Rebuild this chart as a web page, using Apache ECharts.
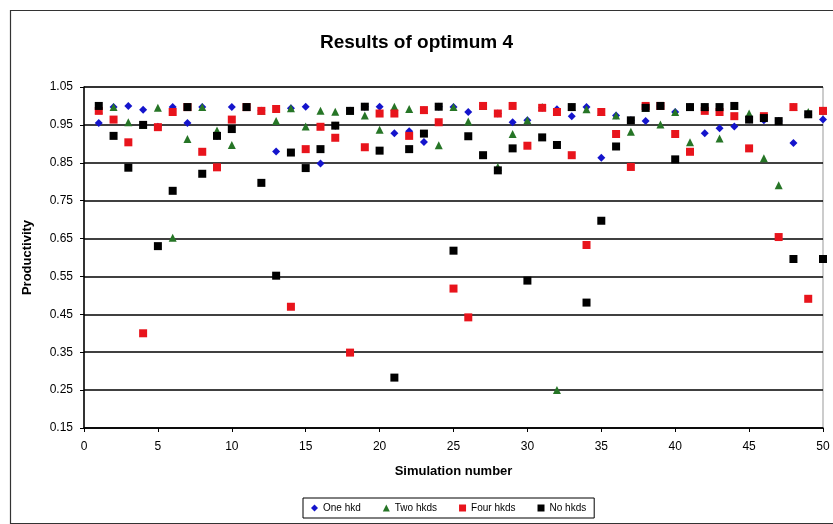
<!DOCTYPE html>
<html>
<head>
<meta charset="utf-8">
<script src="https://cdn.jsdelivr.net/npm/echarts@6/dist/echarts.min.js"></script>
<style>
html,body{margin:0;padding:0;background:#fff;}
#c{width:833px;height:524px;}
</style>
</head>
<body>
<div id="c"></div>
<script>
// Simulation numbers 1..50
const simulations = [1,2,3,4,5,6,7,8,9,10,11,12,13,14,15,16,17,18,19,20,21,22,23,24,25,26,27,28,29,30,31,32,33,34,35,36,37,38,39,40,41,42,43,44,45,46,47,48,49,50];
const oneHkd = [0.955,0.997,1.0,0.99,0.945,0.997,0.955,0.997,0.921,0.997,0.997,0.987,0.88,0.994,0.998,0.848,0.948,0.987,0.998,0.998,0.928,0.933,0.905,0.998,0.997,0.984,1.0,0.98,0.957,0.962,0.995,0.991,0.973,0.997,0.863,0.975,0.962,0.96,1.0,0.984,0.997,0.928,0.941,0.946,0.964,0.962,0.96,0.902,0.978,0.964];
const twoHkds = [0.99,0.997,0.957,0.95,0.995,0.652,0.913,0.997,0.935,0.897,0.997,0.987,0.96,0.994,0.946,0.987,0.985,0.987,0.975,0.937,0.998,0.992,0.989,0.896,0.997,0.959,1.0,0.839,0.926,0.962,0.997,0.25,0.997,0.991,0.984,0.975,0.932,0.995,0.951,0.984,0.904,0.997,0.914,1.0,0.98,0.862,0.791,0.997,0.984,0.987];
const fourHkds = [0.987,0.964,0.904,0.40,0.944,0.984,0.997,0.879,0.838,0.964,0.997,0.987,0.992,0.47,0.886,0.945,0.916,0.349,0.891,0.98,0.98,0.921,0.989,0.957,0.518,0.442,1.0,0.98,1.0,0.895,0.995,0.984,0.87,0.633,0.984,0.926,0.839,1.0,1.0,0.926,0.879,0.987,0.984,0.973,0.888,0.973,0.654,0.997,0.491,0.987];
const noHkds = [1.0,0.921,0.837,0.95,0.63,0.776,0.997,0.821,0.921,0.939,0.997,0.797,0.552,0.877,0.836,0.886,0.948,0.987,0.998,0.882,0.283,0.886,0.927,0.998,0.618,0.92,0.87,0.83,0.888,0.539,0.917,0.897,0.997,0.481,0.697,0.893,0.962,0.995,1.0,0.859,0.997,0.997,0.997,1.0,0.964,0.968,0.96,0.596,0.978,0.596];
const seriesNames = ['One hkd','Two hkds','Four hkds','No hkds'];

const pair = arr => simulations.map((s,i) => [s, arr[i]]);
const font = '"Liberation Sans", Arial, sans-serif';

const chart = echarts.init(document.getElementById('c'), null, {renderer:'canvas'});
chart.setOption({
  animation:false,
  backgroundColor:'#fff',
  title:{
    text:'Results of optimum 4',
    left:'center', top:28,
    textStyle:{fontFamily:font, fontSize:19, fontWeight:'bold', color:'#000'}
  },
  legend:{
    bottom:6, left:303,
    data:seriesNames,
    borderColor:'#000', borderWidth:1,
    padding:[5,8,5,8],
    itemWidth:7, itemHeight:7, itemGap:22,
    textStyle:{fontFamily:font, fontSize:10, color:'#000'}
  },
  graphic:[{
    type:'rect', left:8, top:8,
    shape:{width:840, height:513},
    style:{fill:'none', stroke:'#333', lineWidth:1.2}, silent:true, z:-1
  }],
  grid:{left:84, right:10, top:87, bottom:96, show:true, borderColor:'#999', borderWidth:1, backgroundColor:'#fff'},
  xAxis:{
    type:'value', min:0, max:50, interval:5,
    name:'Simulation number', nameLocation:'middle', nameGap:37,
    nameTextStyle:{fontFamily:font, fontSize:13, fontWeight:'bold', color:'#000'},
    axisLine:{onZero:false, lineStyle:{color:'#000', width:1.5}},
    axisTick:{show:true, length:4, lineStyle:{color:'#000'}},
    axisLabel:{fontFamily:font, fontSize:12, color:'#000', margin:13},
    splitLine:{show:false}
  },
  yAxis:{
    type:'value', min:0.15, max:1.05, interval:0.1,
    name:'Productivity', nameLocation:'middle', nameGap:50, nameRotate:90,
    nameTextStyle:{fontFamily:font, fontSize:13, fontWeight:'bold', color:'#000'},
    axisLine:{show:true, lineStyle:{color:'#000', width:1.5}},
    axisTick:{show:true, length:4, lineStyle:{color:'#000'}},
    axisLabel:{fontFamily:font, fontSize:12, color:'#000', margin:11, formatter:v=>v.toFixed(2)},
    splitLine:{show:true, lineStyle:{color:'#000', width:1.5}}
  },
  series:[
    {name:seriesNames[0], type:'scatter', symbol:'diamond', symbolSize:8, itemStyle:{color:'#1414cc', opacity:1}, data:pair(oneHkd)},
    {name:seriesNames[1], type:'scatter', symbol:'triangle', symbolSize:8, itemStyle:{color:'#267526', opacity:1}, data:pair(twoHkds)},
    {name:seriesNames[2], type:'scatter', symbol:'rect', symbolSize:8, itemStyle:{color:'#e8141c', opacity:1}, data:pair(fourHkds)},
    {name:seriesNames[3], type:'scatter', symbol:'rect', symbolSize:8, itemStyle:{color:'#000', opacity:1}, data:pair(noHkds)}
  ]
});
</script>
</body>
</html>
